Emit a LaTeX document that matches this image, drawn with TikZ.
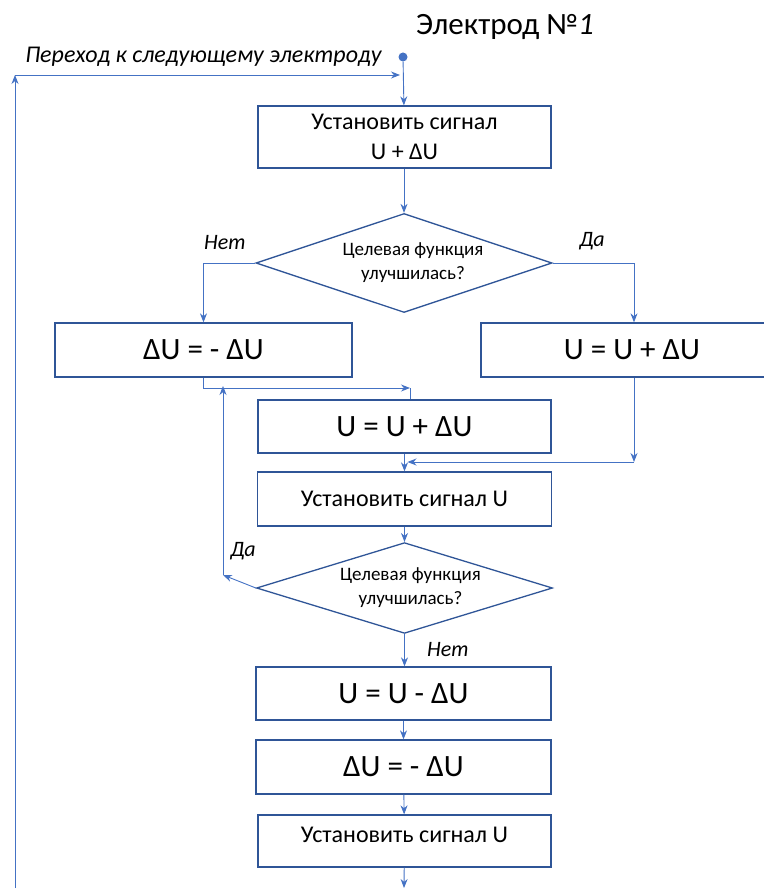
\documentclass[tikz,border=0pt]{standalone}
\usepackage{fontspec}
\setmainfont{Carlito}
\usetikzlibrary{shapes.geometric,arrows.meta}
\definecolor{boxblue}{HTML}{2F5597}
\definecolor{linkblue}{HTML}{4472C4}

\tikzset{
	blockbox/.style={draw=boxblue, line width=1.3pt, minimum width=294pt, minimum height=54pt, inner sep=0pt, align=center, font=\fontsize{24}{28}\selectfont},
	bigbox/.style={blockbox, font=\fontsize{31}{34}\selectfont},
	testbox/.style={draw=boxblue, line width=1.3pt, shape=diamond, aspect=3, minimum width=296pt, minimum height=99pt, inner sep=0pt, align=center, font=\fontsize{19}{24}\selectfont},
	link/.style={draw=linkblue, line width=0.9pt, -{Stealth[length=9pt,width=7pt]}},
	plainlink/.style={draw=linkblue, line width=0.9pt},
	answer/.style={font=\itshape\fontsize{22}{24}\selectfont}
}

\begin{document}
\begin{tikzpicture}[x=1pt, y=-1pt]
\useasboundingbox (0,0) rectangle (763,890);

% title and start
\node (title) at (505,27) {\fontsize{31}{34}\selectfont Электрод №\textit{1}};
\node[circle, fill=linkblue, inner sep=0pt, minimum size=9pt] (start) at (403,57) {};
\node[font=\itshape\fontsize{24}{26}\selectfont, anchor=east] (next) at (385,57) {Переход к следующему электроду};

% blocks
\node[blockbox, minimum width=293pt, minimum height=62pt] (set1) at (404.5,137) {Установить сигнал\\[2pt]U + ΔU};
\node[testbox] (cond1) at (404,263) {\hspace*{18pt}Целевая функция\\\hspace*{18pt}улучшилась?};
\node[bigbox, minimum width=297pt] (neg1) at (203.5,350) {ΔU = - ΔU};
\node[bigbox, minimum width=306pt] (inc1) at (634,350) {\hspace*{-4pt}U = U + ΔU};
\node[bigbox, minimum width=293pt, minimum height=53pt] (inc2) at (404.5,426.5) {U = U + ΔU};
\node[blockbox] (set2) at (404.5,499) {Установить сигнал U};
\node[testbox, minimum height=86pt] (cond2) at (404.5,588) {\hspace*{12pt}Целевая функция\\\hspace*{12pt}улучшилась?};
\node[bigbox, minimum width=295pt, minimum height=53pt] (dec) at (403.5,693.5) {U = U - ΔU};
\node[bigbox, minimum width=295pt] (neg2) at (403.5,767) {ΔU = - ΔU};
\node[blockbox, minimum width=293pt, minimum height=52pt] (set3) at (404.5,841) {\raisebox{12pt}{Установить сигнал U}};

% answers
\node[answer] (no1) at (225,243) {Нет};
\node[answer] (yes1) at (592,241) {Да};
\node[answer] (yes2) at (243,551) {Да};
\node[answer] (no2) at (448,650) {Нет};

% helper points
\coordinate (topleft) at (15,75);
\coordinate (botleft) at (15,888);
\coordinate (joinA) at (410,388);
\coordinate (joinB) at (634,462);
\coordinate (backA) at (223,575);
\coordinate (endbot) at (404,888);

% connectors
\draw[link] (start) -- (set1);
\draw[link] (botleft) -- (topleft);
\draw[link] (topleft) -- ([xshift=-3pt]topleft -| start);
\draw[link] (set1.south -| cond1.north) -- (cond1);
\draw[link] (cond1.west) -| (neg1.north);
\draw[link] (cond1.east) -| (inc1.north);
\draw[link] (neg1.south) |- (joinA);
\draw[plainlink] (joinA) -- (joinA |- inc2.north);
\draw[link] (inc1.south) -- (joinB);
\draw[link] (joinB) -- ([xshift=3pt]joinB -| set2.north);
\draw[link] (inc2) -- (set2);
\draw[link] (set2) -- (cond2);
\draw[link] (cond2.west) -- (backA);
\draw[link] (backA) -- ([yshift=2pt]backA |- joinA);
\draw[link] (cond2.south) -- (cond2.south |- dec.north);
\draw[link] (dec) -- (neg2);
\draw[link] (neg2) -- (set3);
\draw[link] (set3) -- (endbot);
\end{tikzpicture}
\end{document}
